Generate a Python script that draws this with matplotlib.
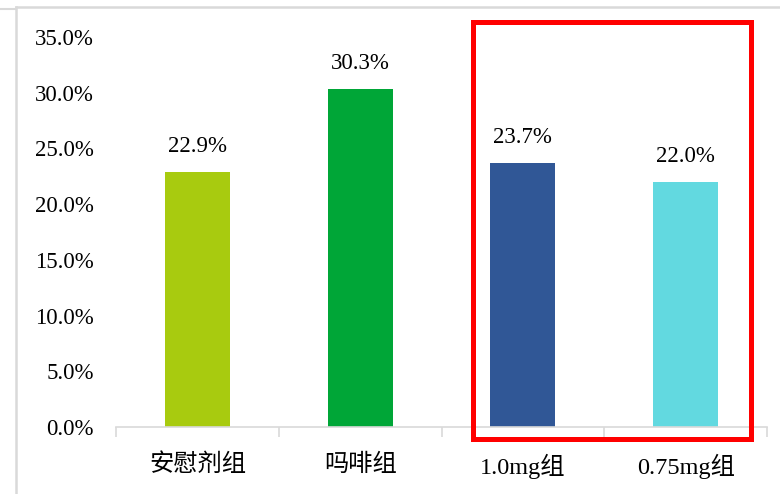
import matplotlib
matplotlib.use('Agg')
import matplotlib.pyplot as plt
from matplotlib.patches import Rectangle
from matplotlib.lines import Line2D
from matplotlib.ticker import FuncFormatter, FixedLocator

groups = ['安慰剂组', '吗啡组', '1.0mg组', '0.75mg组']
rates = [22.9, 30.3, 23.7, 22.0]
colors = ['#A8CB0F', '#00A637', '#305796', '#62D9E0']
yticks = [0, 5, 10, 15, 20, 25, 30, 35]

serif = ['Liberation Serif', 'Noto Sans CJK SC']
W, H = 780, 494

fig = plt.figure(figsize=(W / 100, H / 100), dpi=100)
ax = fig.add_axes([116 / W, 1 - 427 / H, (767 - 116) / W, (427 - 37) / H])

x = list(range(len(groups)))
ax.bar(x, rates, width=0.4, color=colors, zorder=2)
for xi, v in zip(x, rates):
    ax.annotate(f'{v:.1f}%', (xi, v), xytext=(0, 11), textcoords='offset points',
                ha='center', va='bottom', fontsize=16.5, family=serif)

ax.set_xlim(-0.5, len(groups) - 0.5)
ax.set_ylim(0, 35)
ax.set_yticks(yticks)
ax.yaxis.set_major_formatter(FuncFormatter(lambda v, p: f'{v:.1f}%'))
ax.set_xticks(x)
ax.set_xticklabels(groups, family=serif, fontsize=17.5)
ax.xaxis.set_minor_locator(FixedLocator([i - 0.5 for i in range(len(groups) + 1)]))
ax.tick_params(axis='x', which='major', length=0, pad=19)
ax.tick_params(axis='x', which='minor', length=7, color='#D9D9D9', width=1.2)
ax.tick_params(axis='y', length=0, pad=16)
for lab in ax.get_yticklabels():
    lab.set_family(serif)
    lab.set_fontsize(16.5)

for s in ['top', 'right', 'left']:
    ax.spines[s].set_visible(False)
ax.spines['bottom'].set_color('#D9D9D9')
ax.spines['bottom'].set_linewidth(1.2)

# highlight box around the two dose groups
ax.add_patch(Rectangle((1.691, -1.08), 3.400 - 1.691, 36.31 + 1.08,
                       fill=False, edgecolor='#FF0000', linewidth=3.6,
                       clip_on=False, zorder=5))

# outer chart frame
fig.add_artist(Line2D([16 / W, 16 / W], [0, 1 - 7 / H], color='#D9D9D9', lw=1.8,
                      transform=fig.transFigure))
fig.add_artist(Line2D([16 / W, 1], [1 - 7 / H, 1 - 7 / H], color='#D9D9D9', lw=1.8,
                      transform=fig.transFigure))
fig.add_artist(Line2D([0, 16 / W], [1 - 9.5 / H, 1 - 9.5 / H], color='#D9D9D9', lw=1.5,
                      transform=fig.transFigure))

fig.savefig('out.png', dpi=100)
